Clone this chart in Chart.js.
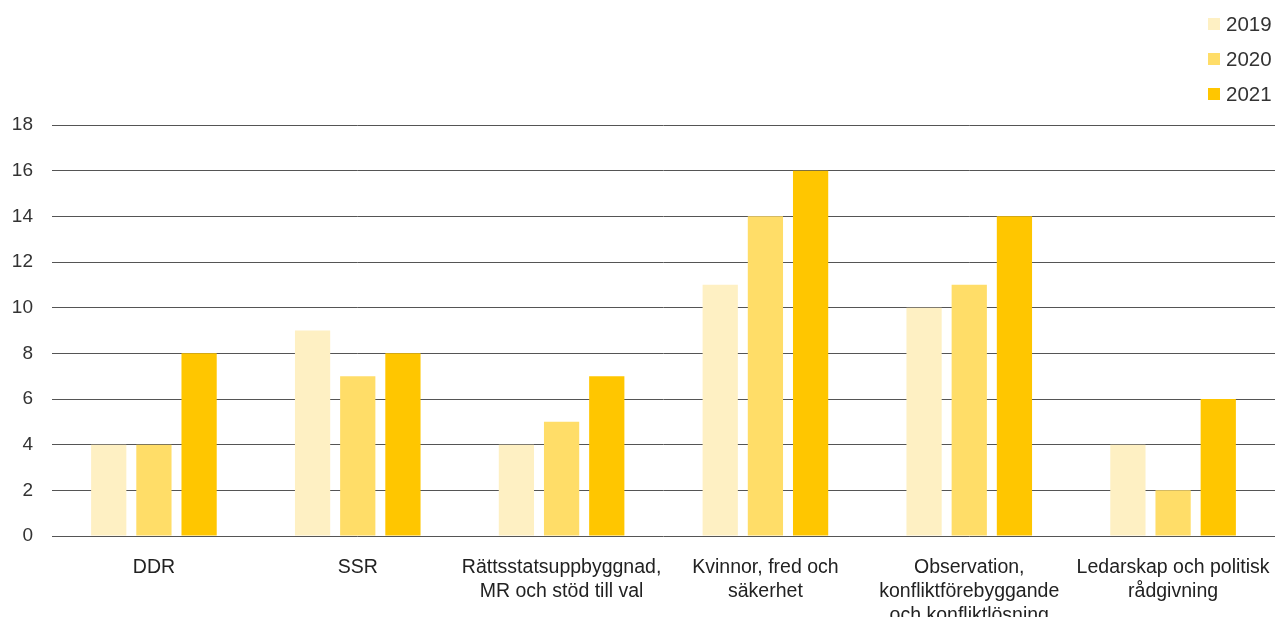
<!DOCTYPE html>
<html>
<head>
<meta charset="utf-8">
<script src="https://cdn.jsdelivr.net/npm/chart.js@4/dist/chart.umd.min.js"></script>
<style>
  html, body { margin: 0; padding: 0; background: #fff; }
  #wrap { width: 1279px; height: 617px; position: relative; }
</style>
</head>
<body>
<div id="wrap"><canvas id="c"></canvas></div>
<script>
const categories = [
  ["DDR"],
  ["SSR"],
  ["Rättsstatsuppbyggnad,", "MR och stöd till val"],
  ["Kvinnor, fred och", "säkerhet"],
  ["Observation,", "konfliktförebyggande", "och konfliktlösning"],
  ["Ledarskap och politisk", "rådgivning"]
];
const seriesNames = ["2019", "2020", "2021"];
const values2019 = [4, 9, 4, 11, 10, 4];
const values2020 = [4, 7, 5, 14, 11, 2];
const values2021 = [8, 8, 7, 16, 14, 6];
const yTicks = [0, 2, 4, 6, 8, 10, 12, 14, 16, 18];
const colors = ["#fef0c3", "#ffdd68", "#ffc600"];

const FONT = "'Liberation Sans', Arial, sans-serif";

const topLegend = {
  id: 'topLegend',
  afterDraw(chart) {
    const ctx = chart.ctx;
    ctx.save();
    ctx.font = "20.5px " + FONT;
    ctx.textBaseline = 'middle';
    ctx.textAlign = 'left';
    chart.data.datasets.forEach((ds, i) => {
      const cy = 24 + i * 35;
      ctx.fillStyle = ds.backgroundColor;
      ctx.fillRect(1208, cy - 6, 12, 12);
      ctx.fillStyle = '#333';
      ctx.fillText(ds.label, 1226, cy + 1);
    });
    ctx.restore();
  }
};

const data = {
  labels: categories,
  datasets: [
    { label: seriesNames[0], data: values2019, backgroundColor: colors[0] },
    { label: seriesNames[1], data: values2020, backgroundColor: colors[1] },
    { label: seriesNames[2], data: values2021, backgroundColor: colors[2] }
  ]
};

new Chart(document.getElementById('c'), {
  type: 'bar',
  data: data,
  plugins: [topLegend],
  options: {
    responsive: true,
    maintainAspectRatio: false,
    animation: false,
    layout: { padding: { top: 125, right: 4, left: 0, bottom: 0 } },
    datasets: { bar: { categoryPercentage: 0.665, barPercentage: 0.78 } },
    plugins: {
      legend: { display: false },
      tooltip: { enabled: false }
    },
    scales: {
      x: {
        grid: { display: false },
        border: { display: false },
        ticks: {
          autoSkip: false, maxRotation: 0, minRotation: 0,
          color: '#222',
          padding: 12,
          font: { family: FONT, size: 19.5, lineHeight: 1.22 }
        },
        afterFit: (s) => { s.height = 81; s.paddingLeft = 0; s.paddingRight = 0; }
      },
      y: {
        min: 0, max: 18,
        afterBuildTicks: (s) => { s.ticks = yTicks.map(v => ({ value: v })); },
        grid: { color: '#555', lineWidth: 1, drawTicks: false },
        border: { display: false },
        ticks: {
          color: '#333',
          padding: 19,
          font: { family: FONT, size: 19 }
        },
        afterFit: (s) => { s.width = 52; }
      }
    }
  }
});
</script>
</body>
</html>
